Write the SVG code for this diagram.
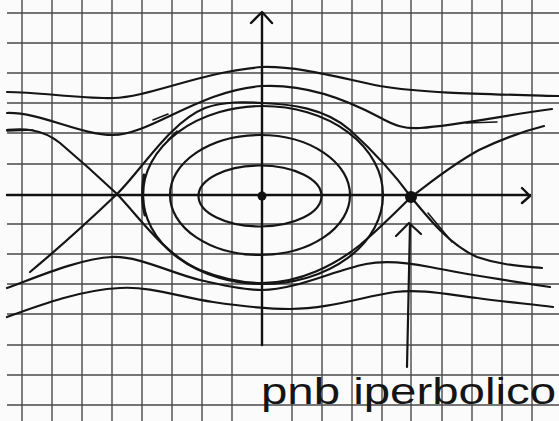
<svg xmlns="http://www.w3.org/2000/svg" width="559" height="421" viewBox="0 0 559 421">
<style>
.grid{stroke:#4a4a4a;stroke-width:1.4;fill:none}
.axis{stroke:#111;stroke-width:2.4;fill:none;stroke-linecap:round;stroke-linejoin:round}
.curve{stroke:#151515;stroke-width:2.2;fill:none;stroke-linecap:round;stroke-linejoin:round}
.thin{stroke:#151515;stroke-width:1.6;fill:none;stroke-linecap:round}
.label{font-family:"Liberation Sans",Arial,sans-serif;font-size:36px;fill:#151515}
</style>
<rect width="559" height="421" fill="#fbfbfb"/>
<g id="grid" class="grid">
<path d="M22,0V421M52,0V421M82,0V421M112,0V421M142,0V421M172,0V421M202,0V421M232,0V421M292,0V421M322,0V421M352,0V421M382,0V421M442,0V421M472,0V421M502,0V421M532,0V421M411,0V421"/>
<path d="M7,13H559M7,43H559M7,73H559M7,103H559M7,133H559M7,164H559M7,224H559M7,254H559M7,284H559M7,314H559M7,345H559M7,375H559M7,405H559"/>
</g>
<g id="axes">
<path class="axis" d="M7,195H530M522,188L530,196L522,203"/>
<path class="axis" d="M262,345V13M251,23L262,12L272,23"/>
</g>
<g id="connectors">
<path id="top-orbit" class="curve" d="M7,92 C40,92 80,99 113,98 C150,97 200,72 262,67 C300,66 340,78 380,86 C420,93 480,94 559,96"/>
<path id="second-orbit" class="curve" d="M7,113 C40,112 80,135 113,135 C150,135 200,90 262,86 C300,84 340,96 379,117 C395,126 405,129 420,128 C460,125 500,116 552,109"/>
<path id="separatrix-1" class="curve" d="M7,130 C20,129 40,127 60,143 C80,160 100,178 117,194 C140,218 165,255 200,270 C225,280 245,283 262,283 C300,283 335,265 360,245 C380,228 400,208 411,197"/>
<path id="separatrix-2" class="curve" d="M30,272 C60,247 95,215 117,194 C140,172 170,122 205,108 C225,101 245,102 262,103 C290,104 325,108 350,130 C372,150 395,175 411,197 C430,220 450,245 477,257 C500,265 520,266 542,268"/>
<path id="separatrix-3" class="curve" d="M411,197 C430,183 450,166 479,150 C500,140 520,132 544,126"/>
<ellipse id="orbit-3" class="curve" cx="263" cy="195" rx="120" ry="89"/>
<ellipse id="orbit-2" class="curve" cx="260" cy="195" rx="90" ry="60"/>
<ellipse id="orbit-1" class="curve" cx="260" cy="196" rx="61.5" ry="30.5"/>
<path id="lower-orbit-1" class="curve" d="M7,288 C30,280 80,258 112,257 C140,256 170,273 200,280 C225,286 245,290 262,290 C295,290 335,270 366,264 C385,260 405,262 430,267 C470,275 510,281 550,287"/>
<path id="lower-orbit-2" class="curve" d="M7,317 C40,305 80,290 120,288 C150,286 180,297 213,302 C240,306 262,309 290,309 C330,309 365,296 395,292 C420,289 445,294 477,298 C505,302 530,304 553,307"/>
<path class="thin" d="M153,120L168,114M168,140L177,131M466,123L497,122M428,213L452,242M7,131L33,130"/>
<path class="curve" style="stroke-width:3" d="M144,175C142,190 142,205 145,215"/>
<path id="pointer" class="curve" d="M407,367L410,225M396,236L409,223L421,234"/>
</g>
<g id="equilibria">
<circle id="center" cx="262" cy="196" r="4.5" fill="#111"/>
<circle id="saddle" cx="411" cy="197" r="6" fill="#111"/>
</g>
<g id="caption">
<text class="label" x="261" y="404" textLength="295" lengthAdjust="spacingAndGlyphs">pnb iperbolico</text>
</g>
</svg>
